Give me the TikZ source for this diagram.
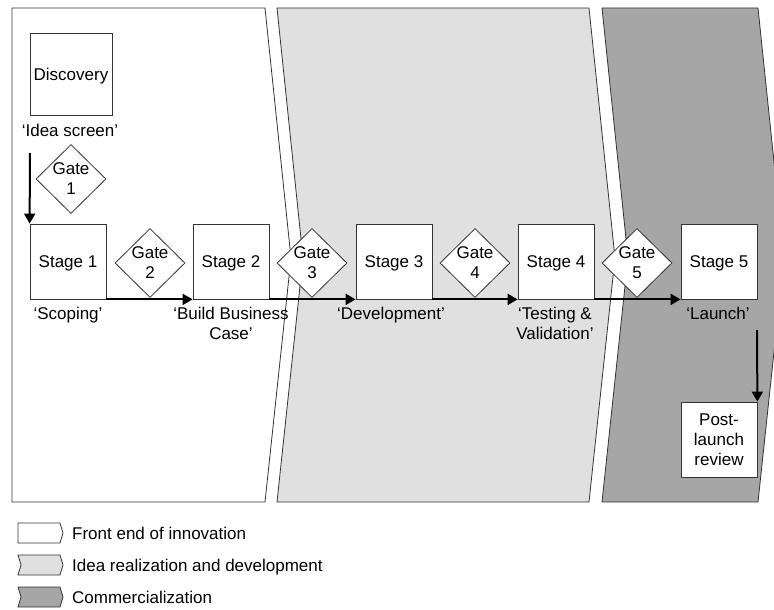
\documentclass[tikz,border=0pt]{standalone}
\usepackage{fontspec}
\setmainfont{Liberation Sans}
\usetikzlibrary{shapes.geometric,arrows.meta}
\definecolor{midgray}{HTML}{E0E0E0}
\definecolor{darkgray}{HTML}{A6A6A6}
\definecolor{edge}{HTML}{333333}
\begin{document}
\begin{tikzpicture}[x=1pt,y=-1pt,
  txt/.style={font=\fontsize{17}{20}\selectfont},
  box/.style={draw=edge, line width=0.8pt, fill=white, minimum width=76pt, minimum height=75pt, inner sep=0pt, txt, align=center, text depth=0pt},
  gatebox/.style={diamond, aspect=1, draw=edge, line width=0.8pt, fill=white, minimum width=70pt, minimum height=69pt, inner sep=0pt, txt, align=center, text depth=0pt},
  lbl/.style={txt, anchor=north, inner sep=0pt, align=center},
  legtxt/.style={txt, anchor=base west, inner sep=0pt},
  flow/.style={line width=2pt, -{Triangle[length=10pt,width=11pt]}},
  panel/.style={draw=edge, line width=0.8pt, line join=miter}
]
\useasboundingbox (0,0) rectangle (774,610);
\clip (0,0) rectangle (774,610);
% panels
\filldraw[panel, fill=white] (12,8) -- (265,8) -- (291,258) -- (265,502) -- (12,502) -- cycle;
\filldraw[panel, fill=midgray] (277,8) -- (589,8) -- (615,258) -- (589,502) -- (277,502) -- (303,258) -- cycle;
\filldraw[panel, fill=darkgray] (602,8) -- (758,8) -- (784,258) -- (758,502) -- (602,502) -- (628,258) -- cycle;
% discovery
\node[box, minimum width=82pt, minimum height=82pt] (disc) at (71,74) {Discovery};
\node[lbl] (idea) at (70,124) {‘Idea screen’};
\node[gatebox] (g1) at (71,179) {Gate\\1};
% stages
\node[box] (s1) at (68,261.5) {Stage 1};
\node[box] (s2) at (231,261.5) {Stage 2};
\node[box] (s3) at (394,261.5) {Stage 3};
\node[box] (s4) at (556,261.5) {Stage 4};
\node[box] (s5) at (719,261.5) {Stage 5};
% gates
\node[gatebox] (g2) at (150,263) {Gate\\2};
\node[gatebox] (g3) at (312,263) {Gate\\3};
\node[gatebox] (g4) at (475,263) {Gate\\4};
\node[gatebox] (g5) at (637,263) {Gate\\5};
% labels
\node[lbl] (l1) at (68,307) {‘Scoping’};
\node[lbl] (l2) at (231,307) {‘Build Business\\Case’};
\node[lbl] (l3) at (391,307) {‘Development’};
\node[lbl] (l4) at (555,307) {‘Testing \&\\Validation’};
\node[lbl] (l5) at (718,307) {‘Launch’};
% post-launch
\node[box] (post) at (719,439.5) {Post-\\launch\\review};
% connectors
\coordinate (ga) at (30,153);
\draw[flow] (ga) -- (s1.north west);
\draw[flow] (s1.south east) -- (s2.south west);
\draw[flow] (s2.south east) -- (s3.south west);
\draw[flow] (s3.south east) -- (s4.south west);
\draw[flow] (s4.south east) -- (s5.south west);
\coordinate (pa) at (757,330);
\draw[flow] (pa) -- (post.north east);
% legend
\filldraw[panel, fill=white] (18,523) -- (60,523) -- (63,533) -- (60,543) -- (18,543) -- cycle;
\filldraw[panel, fill=midgray] (18,555) -- (60,555) -- (63,565) -- (60,575) -- (18,575) -- (21,565) -- cycle;
\filldraw[panel, fill=darkgray] (18,587) -- (60,587) -- (63,597) -- (60,607) -- (18,607) -- (21,597) -- cycle;
\node[legtxt] (lg1) at (72,539) {Front end of innovation};
\node[legtxt] (lg2) at (72,571) {Idea realization and development};
\node[legtxt] (lg3) at (72,603) {Commercialization};
\end{tikzpicture}
\end{document}
